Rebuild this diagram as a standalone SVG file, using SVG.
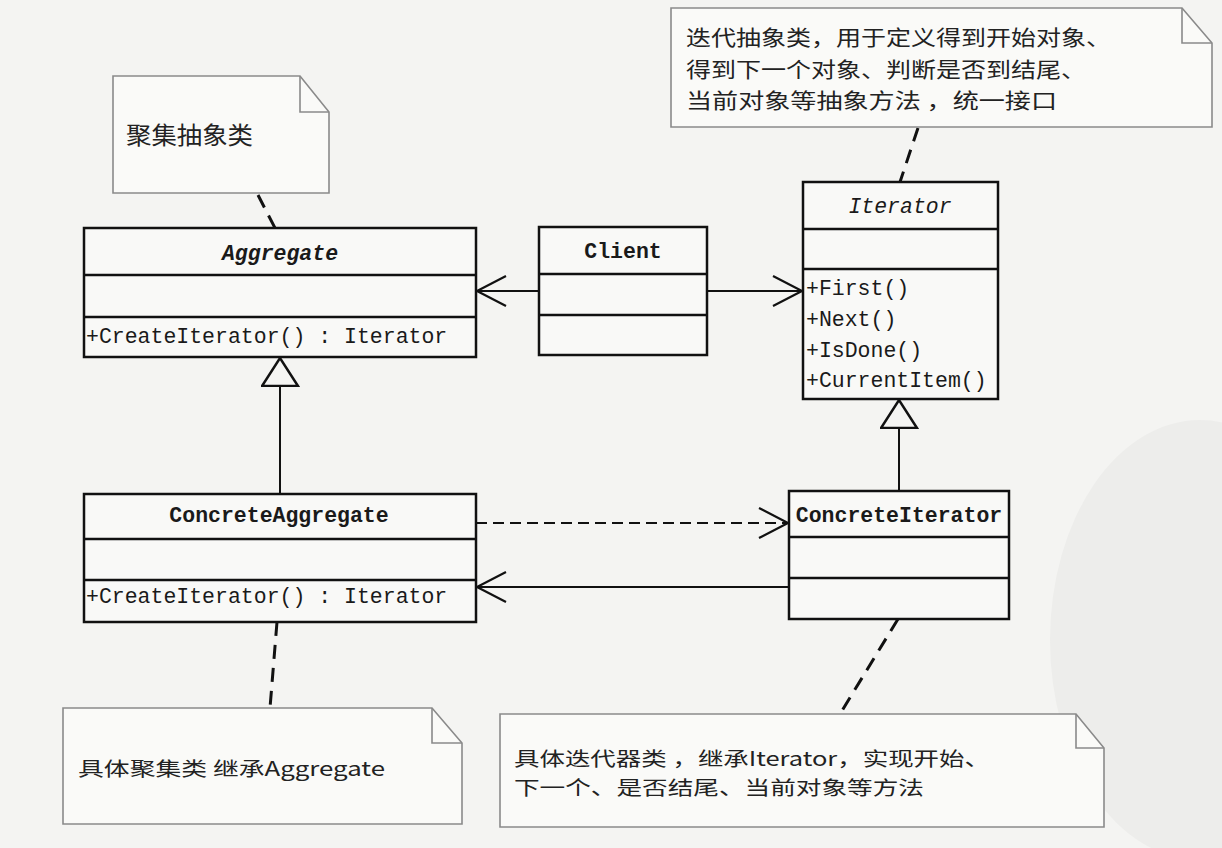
<svg xmlns="http://www.w3.org/2000/svg" width="1222" height="848" viewBox="0 0 1222 848">
<style>
.box{fill:#f9f9f7;stroke:#111;stroke-width:2.5}
.div{stroke:#111;stroke-width:2.5}
.note{fill:#fafaf8;stroke:#8a8a8a;stroke-width:1.6}
.fold{fill:none;stroke:#8a8a8a;stroke-width:1.6}
.mono{font-family:"Liberation Mono","DejaVu Sans Mono",monospace;font-size:21.5px;fill:#1a1a1a}
.title{font-weight:bold}
.it{font-style:italic}
.cjk{font-family:"Noto Sans CJK SC","Noto Sans CJK JP",sans-serif;fill:#222}
.n1{font-size:24px}
.n2{font-size:21px}
.n3{font-size:19.5px}
.line{fill:none;stroke:#111;stroke-width:2}
.dash{fill:none;stroke:#111;stroke-width:2;stroke-dasharray:11 6}
.anchor{fill:none;stroke:#111;stroke-width:3;stroke-dasharray:14 9}
</style>
<defs>
<marker id="open" markerUnits="userSpaceOnUse" markerWidth="34" markerHeight="36" refX="31" refY="17" orient="auto" viewBox="0 0 34 36">
<path d="M2,2 L31,17 L2,32" fill="none" stroke="#111" stroke-width="2.2"/>
</marker>
<marker id="tri" markerUnits="userSpaceOnUse" markerWidth="32" markerHeight="40" refX="29" refY="19" orient="auto" viewBox="0 0 32 40">
<path d="M1,1 L29,19 L1,37 Z" fill="#f5f5f3" stroke="#111" stroke-width="2.5"/>
</marker>
</defs>
<rect width="1222" height="848" fill="#f4f4f2"/>
<ellipse cx="1200" cy="640" rx="150" ry="220" fill="#ededeb"/>

<g id="connectors">
<line class="line" x1="539" y1="291" x2="477" y2="291" marker-end="url(#open)"/>
<line class="line" x1="707" y1="291" x2="802" y2="291" marker-end="url(#open)"/>
<line class="line" x1="280" y1="494" x2="280" y2="358" marker-end="url(#tri)"/>
<line class="line" x1="899" y1="491" x2="899" y2="400" marker-end="url(#tri)"/>
<line class="dash" x1="476" y1="523" x2="788" y2="523" marker-end="url(#open)"/>
<line class="line" x1="789" y1="587" x2="477" y2="587" marker-end="url(#open)"/>
<line class="anchor" x1="258" y1="195" x2="275" y2="228"/>
<line class="anchor" x1="918" y1="128" x2="900" y2="182"/>
<line class="anchor" x1="277" y1="622" x2="270" y2="708"/>
<line class="anchor" x1="898" y1="619" x2="840" y2="714"/>
</g>

<g id="note-aggregate">
<path class="note" d="M113,76 L300,76 L329,112 L329,193 L113,193 Z"/>
<path class="fold" d="M300,76 L300,112 L329,112"/>
<text class="cjk n1" x="126" y="144" textLength="127" lengthAdjust="spacingAndGlyphs">聚集抽象类</text>
</g>

<g id="note-iterator">
<path class="note" d="M671,8 L1182,8 L1212,43 L1212,127 L671,127 Z"/>
<path class="fold" d="M1182,8 L1182,43 L1212,43"/>
<text class="cjk n2" x="686" y="45" textLength="425" lengthAdjust="spacingAndGlyphs">迭代抽象类，用于定义得到开始对象、</text>
<text class="cjk n2" x="686" y="77" textLength="400" lengthAdjust="spacingAndGlyphs">得到下一个对象、判断是否到结尾、</text>
<text class="cjk n2" x="686" y="108" textLength="371" lengthAdjust="spacingAndGlyphs">当前对象等抽象方法 ，统一接口</text>
</g>

<g id="note-concrete-aggregate">
<path class="note" d="M63,708 L432,708 L462,743 L462,824 L63,824 Z"/>
<path class="fold" d="M432,708 L432,743 L462,743"/>
<text class="cjk n3" x="78" y="776" textLength="307" lengthAdjust="spacingAndGlyphs">具体聚集类 继承Aggregate</text>
</g>

<g id="note-concrete-iterator">
<path class="note" d="M500,714 L1076,714 L1104,748 L1104,827 L500,827 Z"/>
<path class="fold" d="M1076,714 L1076,748 L1104,748"/>
<text class="cjk n3" x="514" y="766" textLength="476" lengthAdjust="spacingAndGlyphs">具体迭代器类 ，继承Iterator，实现开始、</text>
<text class="cjk n3" x="514" y="795" textLength="410" lengthAdjust="spacingAndGlyphs">下一个、是否结尾、当前对象等方法</text>
</g>

<g id="Aggregate">
<rect class="box" x="84" y="228" width="392" height="129"/>
<line class="div" x1="84" y1="275" x2="476" y2="275"/>
<line class="div" x1="84" y1="317" x2="476" y2="317"/>
<text class="mono title it" x="280" y="260" text-anchor="middle">Aggregate</text>
<text class="mono" x="86" y="343">+CreateIterator() : Iterator</text>
</g>

<g id="Client">
<rect class="box" x="539" y="227" width="168" height="128"/>
<line class="div" x1="539" y1="274" x2="707" y2="274"/>
<line class="div" x1="539" y1="315" x2="707" y2="315"/>
<text class="mono title" x="623" y="258" text-anchor="middle">Client</text>
</g>

<g id="Iterator">
<rect class="box" x="803" y="182" width="195" height="217"/>
<line class="div" x1="803" y1="229" x2="998" y2="229"/>
<line class="div" x1="803" y1="269" x2="998" y2="269"/>
<text class="mono it" x="900" y="213" text-anchor="middle">Iterator</text>
<text class="mono" x="806" y="295">+First()</text>
<text class="mono" x="806" y="326">+Next()</text>
<text class="mono" x="806" y="357">+IsDone()</text>
<text class="mono" x="806" y="387">+CurrentItem()</text>
</g>

<g id="ConcreteAggregate">
<rect class="box" x="84" y="494" width="392" height="128"/>
<line class="div" x1="84" y1="539" x2="476" y2="539"/>
<line class="div" x1="84" y1="580" x2="476" y2="580"/>
<text class="mono title" x="279" y="522" text-anchor="middle">ConcreteAggregate</text>
<text class="mono" x="86" y="603">+CreateIterator() : Iterator</text>
</g>

<g id="ConcreteIterator">
<rect class="box" x="789" y="491" width="220" height="128"/>
<line class="div" x1="789" y1="537" x2="1009" y2="537"/>
<line class="div" x1="789" y1="578" x2="1009" y2="578"/>
<text class="mono title" x="899" y="522" text-anchor="middle">ConcreteIterator</text>
</g>
</svg>
